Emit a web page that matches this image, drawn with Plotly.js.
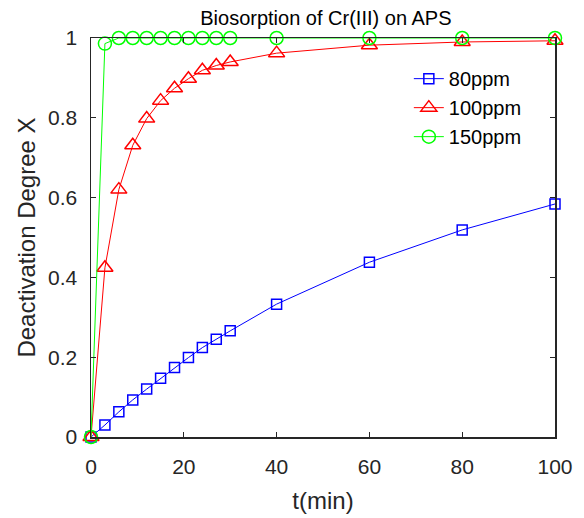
<!DOCTYPE html>
<html>
<head>
<meta charset="utf-8">
<script src="https://cdn.plot.ly/plotly-3.0.1.min.js"></script>
<style>html,body{margin:0;padding:0;background:#fff;}#chart{width:584px;height:518px;}</style>
</head>
<body>
<div id="chart"></div>
<script>
const timeMin = [0, 3, 6, 9, 12, 15, 18, 21, 24, 27, 30, 40, 60, 80, 100];
const ppm80 = [0, 0.030, 0.063, 0.093, 0.120, 0.147, 0.174, 0.199, 0.224, 0.245, 0.266, 0.333, 0.438, 0.519, 0.584];
const ppm100 = [0, 0.424, 0.620, 0.731, 0.798, 0.843, 0.874, 0.898, 0.919, 0.931, 0.940, 0.962, 0.982, 0.990, 0.993];
const ppm150 = [0, 0.986, 1, 1, 1, 1, 1, 1, 1, 1, 1, 1, 1, 1, 1];
const seriesNames = ['80ppm', '100ppm', '150ppm'];
const xTicks = [0, 20, 40, 60, 80, 100];
const yTicks = [0, 0.2, 0.4, 0.6, 0.8, 1];
const yTickText = ['0', '0.2', '0.4', '0.6', '0.8', '1'];

const font = 'Liberation Sans, Arial, sans-serif';
const axisColor = '#262626';

function mk(y, name, color, symbol, size) {
  return {
    x: timeMin, y: y, name: name, type: 'scatter', mode: 'lines+markers',
    cliponaxis: false,
    line: {color: color, width: 1},
    marker: {symbol: symbol, size: size, color: color, line: {color: color, width: 1.5}}
  };
}

const data = [
  mk(ppm80, seriesNames[0], '#0000ff', 'square-open', 10),
  mk(ppm100, seriesNames[1], '#ff0000', 'triangle-up-open', 14),
  mk(ppm150, seriesNames[2], '#00ff00', 'circle-open', 13)
];

const layout = {
  width: 584, height: 518,
  margin: {l: 91, r: 29, t: 38, b: 81},
  paper_bgcolor: '#fff', plot_bgcolor: '#fff',
  font: {family: font, color: axisColor},
  title: {text: 'Biosorption of Cr(III) on APS', font: {size: 20, color: '#000'}, x: 0.558, xanchor: 'center', y: 0.965, yanchor: 'middle'},
  showlegend: true,
  legend: {x: 0.685, y: 0.947, xanchor: 'left', yanchor: 'top', bgcolor: 'rgba(0,0,0,0)', font: {size: 20, color: '#000'}, itemwidth: 30},
  xaxis: {
    range: [0, 100], tickvals: xTicks, ticktext: xTicks.map(String),
    ticks: 'inside', ticklen: 5, tickwidth: 1, tickcolor: axisColor,
    showline: true, linecolor: axisColor, linewidth: 1.5, mirror: 'ticks',
    showgrid: false, zeroline: false, ticklabelstandoff: 10,
    tickfont: {size: 21, color: axisColor},
    title: {text: 't(min)', font: {size: 24, color: axisColor}, standoff: 15}
  },
  yaxis: {
    range: [0, 1], tickvals: yTicks, ticktext: yTickText,
    ticks: 'inside', ticklen: 5, tickwidth: 1, tickcolor: axisColor,
    showline: true, linecolor: axisColor, linewidth: 1.5, mirror: 'ticks',
    showgrid: false, zeroline: false, ticklabelstandoff: 8,
    tickfont: {size: 21, color: axisColor},
    title: {text: 'Deactivation Degree X', font: {size: 24, color: axisColor}, standoff: 5}
  }
};

Plotly.newPlot('chart', data, layout, {displayModeBar: false, staticPlot: true});
</script>
</body>
</html>
